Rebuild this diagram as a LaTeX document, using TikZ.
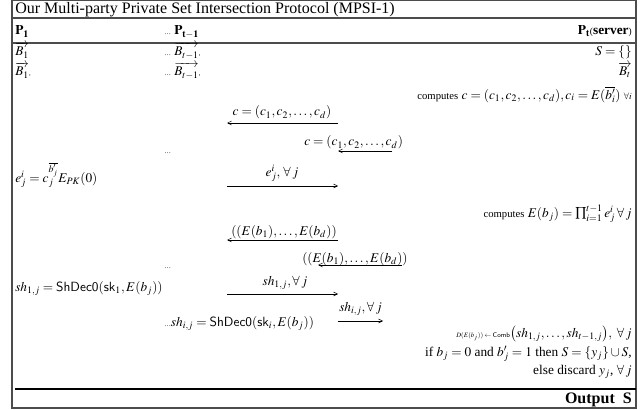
\documentclass[tikz,border=0pt]{standalone}
\usepackage{mathptmx}
\usepackage{amsmath, amssymb}
\usepackage{fontspec}
\setmainfont{Liberation Serif}
\usetikzlibrary{arrows.meta}

\begin{document}
\begin{tikzpicture}[x=0.75pt,y=0.75pt,yscale=-1,xscale=1,
    txt/.style={inner sep=0.75pt},
    msg/.style={line width=0.4pt,-{Straight Barb[length=3pt,width=3pt]}},
    rule/.style={line width=1pt,color=black!70}]
\useasboundingbox (0,0) rectangle (643,410);
%Shape: Frame
\draw [rule] (12,0.5) rectangle (636,408) ;
%Straight Lines
\draw [rule] (12,18) -- (636,18) ;
\draw [rule] (12,43) -- (636,43) ;
\draw [line width=0.9pt] (15,389) -- (636,389) ;

% Text Node
\node (title) [txt,anchor=base west,font=\large] at (14,14) {Our Multi-party Private Set Intersection Protocol (MPSI-1)};
% Text Node
\node (pone) [txt,anchor=base west] at (14,35) {$\mathbf{P_1}$};
\node (ptmo) [txt,anchor=base west] at (163,35) {{\tiny\ldots} $\mathbf{P_{t-1}}$};
\node (pt) [txt,anchor=base east] at (633,35) {$\mathbf{P_t}${\scriptsize(}\textbf{server}{\scriptsize)}};
% Text Node
\node (bone) [txt,anchor=base west] at (14,56) {$\overrightarrow{B_1}$};
\node (bonec) [txt,anchor=base west] at (14,76) {$\overrightarrow{B_1}$\tiny,};
\node (btmo) [txt,anchor=base west] at (163,56) {{\tiny\ldots} $\overrightarrow{B_{t-1}}$\tiny,};
\node (btmoc) [txt,anchor=base west] at (163,76) {{\tiny\ldots} $\overrightarrow{B_{t-1}}$\tiny,};
\node (sinit) [txt,anchor=base east] at (633,56) {$S=\{\}$};
\node (bt) [txt,anchor=base east] at (633,76) {$\overrightarrow{B_t}$};
% Text Node
\node (compc) [txt,anchor=base east] at (633,99) {{\footnotesize computes} $c=(c_1,c_2,\ldots,c_d),c_i=E(\overline{b'_i})$ {\scriptsize$\forall i$}};

%Straight Lines
\coordinate (cR) at (338,123) ;
\coordinate (cL) at (227,123) ;
\draw [msg] (cR) -- (cL) ;
\node (clbl) [txt,anchor=base] at (282,116) {$c=(c_1,c_2,\ldots,c_d)$};
% Text Node
\node (ctwo) [txt,anchor=base west] at (303,146) {$c=(c_1,c_2,\ldots,c_d)$};
\coordinate (ctR) at (392,151) ;
\coordinate (ctL) at (338,151) ;
\draw [msg] (ctR) -- (ctL) ;
\node (dotsa) [txt,anchor=base west,font=\tiny] at (163,153) {\ldots};

% Text Node
\node (eij) [txt,anchor=base west] at (14,182) {$e^i_j=c_j^{\overline{b'_j}}E_{PK}(0)$};
\coordinate (eL) at (227,186) ;
\coordinate (eR) at (338,186) ;
\draw [msg] (eL) -- (eR) ;
\node (elbl) [txt,anchor=base] at (282,176) {$e^i_j,\,\forall\,j$};
% Text Node
\node (compe) [txt,anchor=base east] at (633,217) {{\footnotesize computes} $E(b_j)=\prod_{i=1}^{t-1}e^i_j\,\forall\,j$};

%Straight Lines
\coordinate (bR) at (338,240) ;
\coordinate (bL) at (227,240) ;
\draw [msg] (bR) -- (bL) ;
\node (blbl) [txt,anchor=base] at (284,235) {$((E(b_1),\ldots,E(b_d))$};
% Text Node
\node (btwo) [txt,anchor=base west] at (301,262) {$((E(b_1),\ldots,E(b_d))$};
\coordinate (btR) at (402,265) ;
\coordinate (btL) at (318,265) ;
\draw [msg] (btR) -- (btL) ;
\node (dotsb) [txt,anchor=base west,font=\tiny] at (163,268) {\ldots};

% Text Node
\node (shone) [txt,anchor=base west] at (14,291) {$sh_{1,j}=\mathsf{ShDec0}(\mathsf{sk}_1,E(b_j))$};
\coordinate (sL) at (227,294) ;
\coordinate (sR) at (338,294) ;
\draw [msg] (sL) -- (sR) ;
\node (slbl) [txt,anchor=base] at (285,285) {$sh_{1,j},\forall\,j$};
% Text Node
\node (shi) [txt,anchor=base west] at (163,326) {{\tiny\ldots}$sh_{i,j}=\mathsf{ShDec0}(\mathsf{sk}_i,E(b_j))$};
\coordinate (siL) at (338,321) ;
\coordinate (siR) at (383,321) ;
\draw [msg] (siL) -- (siR) ;
\node (silbl) [txt,anchor=base west] at (338,311) {$sh_{i,j},\forall\,j$};

% Text Node
\node (comb) [txt,anchor=base east] at (633,337) {{\tiny$D(E(b_j))\leftarrow\mathsf{Comb}$}$\big(sh_{1,j},\ldots,sh_{t-1,j}\big),\ \forall\,j$};
\node (ifb) [txt,anchor=base east] at (633,356) {if $b_j=0$ and $b'_j=1$ then $S=\{y_j\}\cup S$,};
\node (elsed) [txt,anchor=base east] at (633,374) {else discard $y_j$, $\forall\,j$};
% Text Node
\node (outs) [txt,anchor=base east,font=\large] at (633,403) {\textbf{Output\ \ S}};
\end{tikzpicture}
\end{document}
